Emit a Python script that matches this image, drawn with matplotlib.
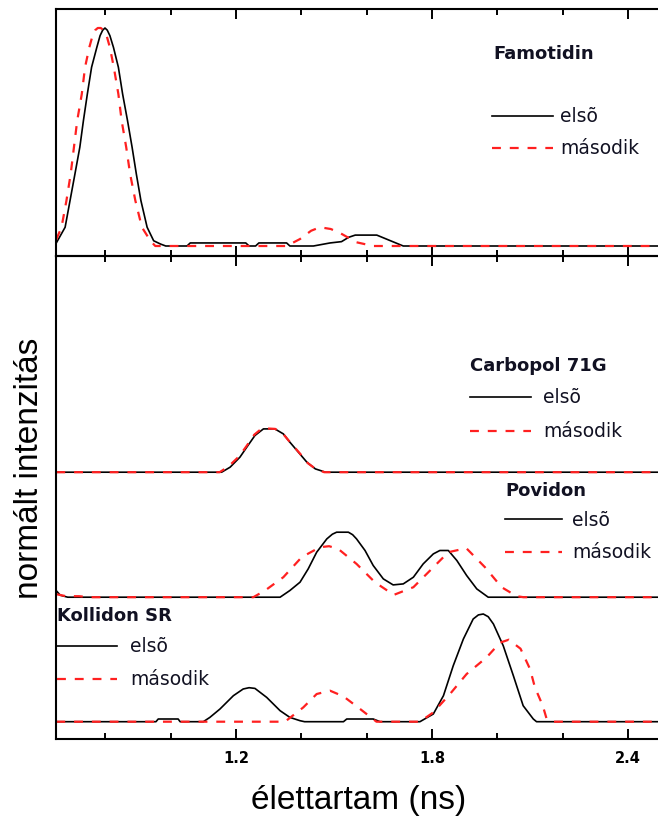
import matplotlib
matplotlib.use("Agg")
import matplotlib.pyplot as plt
from matplotlib.lines import Line2D

# ---------------- data ----------------
fam_x_elso = [0.65, 0.677, 0.692, 0.707, 0.722, 0.733, 0.745, 0.758, 0.774, 0.784, 0.792, 0.799, 0.806,
              0.814, 0.825, 0.840, 0.853, 0.868, 0.882, 0.895, 0.909, 0.928, 0.948, 0.969, 0.985, 1.05,
              1.06, 1.23, 1.24, 1.26, 1.27, 1.355, 1.365, 1.437, 1.488, 1.523, 1.545, 1.565, 1.631,
              1.712, 2.5]
fam_y_elso = [0.014, 0.086, 0.208, 0.33, 0.453, 0.575, 0.697, 0.82, 0.911, 0.965, 0.99, 1.0, 0.99,
              0.965, 0.911, 0.82, 0.697, 0.575, 0.453, 0.33, 0.208, 0.086, 0.024, 0.009, 0.0, 0.0,
              0.014, 0.014, 0.0, 0.0, 0.014, 0.014, 0.0, 0.0, 0.014, 0.02, 0.04, 0.05, 0.05,
              0.0, 0.0]
fam_x_masodik = [0.65, 0.666, 0.681, 0.694, 0.704, 0.714, 0.728, 0.738, 0.751, 0.761, 0.769, 0.777, 0.786,
                 0.795, 0.804, 0.814, 0.826, 0.840, 0.850, 0.864, 0.876, 0.892, 0.912, 0.938, 0.953,
                 1.355, 1.396, 1.43, 1.457, 1.49, 1.518, 1.569, 1.62, 2.5]
fam_y_masodik = [0.03, 0.086, 0.208, 0.33, 0.453, 0.575, 0.697, 0.82, 0.911, 0.965, 0.99, 1.0, 1.0,
                 0.99, 0.965, 0.911, 0.82, 0.697, 0.575, 0.453, 0.33, 0.208, 0.086, 0.024, 0.0,
                 0.0, 0.032, 0.07, 0.086, 0.078, 0.06, 0.017, 0.0, 0.0]

carb_x_elso = [0.65, 1.156, 1.182, 1.212, 1.233, 1.258, 1.284, 1.319, 1.345, 1.365, 1.391, 1.417, 1.443, 1.474, 2.5]
carb_y_elso = [0, 0, 0.05, 0.15, 0.25, 0.367, 0.433, 0.433, 0.383, 0.30, 0.20, 0.10, 0.033, 0, 0]
carb_x_masodik = [0.65, 1.15, 1.178, 1.21, 1.232, 1.256, 1.28, 1.32, 1.345, 1.368, 1.395, 1.42, 1.445, 1.47, 2.5]
carb_y_masodik = [0, 0, 0.06, 0.16, 0.26, 0.375, 0.44, 0.433, 0.38, 0.29, 0.19, 0.09, 0.03, 0, 0]

pov_x_elso = [0.65, 0.662, 0.685, 1.335, 1.365, 1.396, 1.421, 1.447, 1.478, 1.495, 1.508, 1.544, 1.557,
              1.569, 1.595, 1.620, 1.651, 1.681, 1.712, 1.743, 1.773, 1.804, 1.824, 1.850, 1.876, 1.906,
              1.937, 1.972, 2.5]
pov_y_elso = [0.065, 0.02, 0, 0, 0.067, 0.15, 0.283, 0.45, 0.583, 0.63, 0.65, 0.65, 0.625,
              0.583, 0.467, 0.317, 0.183, 0.123, 0.133, 0.2, 0.333, 0.433, 0.467, 0.467, 0.367, 0.217,
              0.083, 0, 0]
pov_x_masodik = [0.65, 0.68, 0.72, 0.75, 1.253, 1.289, 1.345, 1.401, 1.457, 1.485, 1.513, 1.569, 1.625,
                 1.683, 1.743, 1.799, 1.850, 1.905, 1.962, 2.013, 2.059, 2.08, 2.5]
pov_y_masodik = [0.03, 0.01, 0.01, 0, 0, 0.067, 0.2, 0.4, 0.5, 0.51, 0.483, 0.333, 0.15,
                 0.023, 0.1, 0.283, 0.45, 0.49, 0.3, 0.1, 0.01, 0, 0]

koll_x_elso = [0.65, 0.955, 0.962, 1.023, 1.029, 1.10, 1.12, 1.151, 1.192, 1.222, 1.24, 1.258, 1.294,
               1.335, 1.365, 1.396, 1.41, 1.529, 1.539, 1.62, 1.641, 1.763, 1.804, 1.835, 1.865, 1.896,
               1.926, 1.942, 1.957, 1.972, 1.988, 2.018, 2.049, 2.079, 2.11, 2.12, 2.5]
koll_y_elso = [0, 0, 0.027, 0.027, 0, 0, 0.043, 0.127, 0.26, 0.327, 0.34, 0.333, 0.243,
               0.11, 0.043, 0.01, 0, 0, 0.027, 0.027, 0, 0, 0.077, 0.26, 0.56, 0.827,
               1.027, 1.068, 1.077, 1.05, 0.977, 0.76, 0.46, 0.16, 0.027, 0, 0]
koll_x_masodik = [0.65, 1.35, 1.406, 1.447, 1.488, 1.529, 1.58, 1.63, 1.763, 1.804, 1.855, 1.906,
                  1.967, 2.008, 2.035, 2.071, 2.10, 2.115, 2.139, 2.151, 2.171, 2.5]
koll_y_masodik = [0, 0, 0.143, 0.277, 0.31, 0.253, 0.127, 0, 0, 0.093, 0.277, 0.477,
                  0.643, 0.79, 0.82, 0.73, 0.527, 0.343, 0.16, 0.027, 0, 0]

stack_offsets = {"Kollidon SR": 0.0, "Povidon": 1.245, "Carbopol 71G": 2.495}
major_ticks = [1.2, 1.8, 2.4]
major_labels = ["1.2", "1.8", "2.4"]
minor_ticks = [0.8, 1.0, 1.4, 1.6, 2.0, 2.2]
series_labels = ["elsõ", "második"]
xlabel = "élettartam (ns)"
ylabel = "normált intenzitás"

# ---------------- figure ----------------
W, H = 658, 820
fig = plt.figure(figsize=(W / 100, H / 100), dpi=100)

def fx(px):
    return px / W

def fy(py):
    return 1 - py / H

left = fx(56.3)
width = (660.7 - 56.3) / W
ax1 = fig.add_axes([left, fy(257), width, (257 - 10) / H])
ax2 = fig.add_axes([left, fy(740), width, (740 - 257) / H])

black_kw = dict(color="black", lw=1.2, solid_joinstyle="round")
red_kw = dict(color="#ff2020", lw=1.6, dashes=(4, 4))

ax1.plot(fam_x_elso, fam_y_elso, **black_kw)
ax1.plot(fam_x_masodik, fam_y_masodik, **red_kw)
ax1.set_ylim(-10 / 218, 237 / 218)

for name, xe, ye, xm, ym in [("Carbopol 71G", carb_x_elso, carb_y_elso, carb_x_masodik, carb_y_masodik),
                             ("Povidon", pov_x_elso, pov_y_elso, pov_x_masodik, pov_y_masodik),
                             ("Kollidon SR", koll_x_elso, koll_y_elso, koll_x_masodik, koll_y_masodik)]:
    off = stack_offsets[name]
    ax2.plot(xe, [v + off for v in ye], **black_kw)
    ax2.plot(xm, [v + off for v in ym], **red_kw)
ax2.set_ylim(-0.173, 4.657)

for ax in (ax1, ax2):
    ax.set_xlim(0.65, 2.5)
    ax.set_xticks(major_ticks)
    ax.set_xticks(minor_ticks, minor=True)
    ax.set_yticks([])
    ax.tick_params(axis="x", which="major", direction="in", top=True, bottom=True,
                   length=7, width=1.4, pad=8)
    ax.tick_params(axis="x", which="minor", direction="in", top=True, bottom=True,
                   length=4.5, width=1.4)
    ax.spines["right"].set_visible(False)
    for s in ("left", "top", "bottom"):
        ax.spines[s].set_linewidth(1.5)
    ax.patch.set_alpha(0)

ax1.set_xticklabels([])
ax2.set_xticklabels(major_labels, fontsize=10.5, fontweight="bold", family="DejaVu Sans")

fig.text(fx(359), fy(801), xlabel, ha="center", va="center", fontsize=24, family="Liberation Sans")
fig.text(fx(30), fy(468), ylabel, ha="center", va="center", rotation=90, fontsize=24,
         family="Liberation Sans")

# ---------------- in-plot legends ----------------
def legend_block(title, tx, ty, lx0, lx1, y1, y2, txt_x, title_fs=13):
    fig.text(fx(tx), fy(ty), title, ha="left", va="center", fontsize=title_fs,
             fontweight="bold", family="DejaVu Sans", color="#111122")
    fig.add_artist(Line2D([fx(lx0), fx(lx1)], [fy(y1), fy(y1)], transform=fig.transFigure, **black_kw))
    fig.add_artist(Line2D([fx(lx0), fx(lx1)], [fy(y2), fy(y2)], transform=fig.transFigure, **red_kw))
    fig.text(fx(txt_x), fy(y1), series_labels[0], ha="left", va="center", fontsize=13.5,
             family="DejaVu Sans", color="#111122")
    fig.text(fx(txt_x), fy(y2), series_labels[1], ha="left", va="center", fontsize=13.5,
             family="DejaVu Sans", color="#111122")

legend_block("Famotidin", 493, 54, 492, 553, 117, 149, 560)
legend_block("Carbopol 71G", 470, 366, 470, 531, 398, 432, 543)
legend_block("Povidon", 505, 491, 505, 562, 520, 553, 572)
legend_block("Kollidon SR", 57, 616, 57, 117, 647, 680, 130)

fig.savefig("out.png", dpi=100)
